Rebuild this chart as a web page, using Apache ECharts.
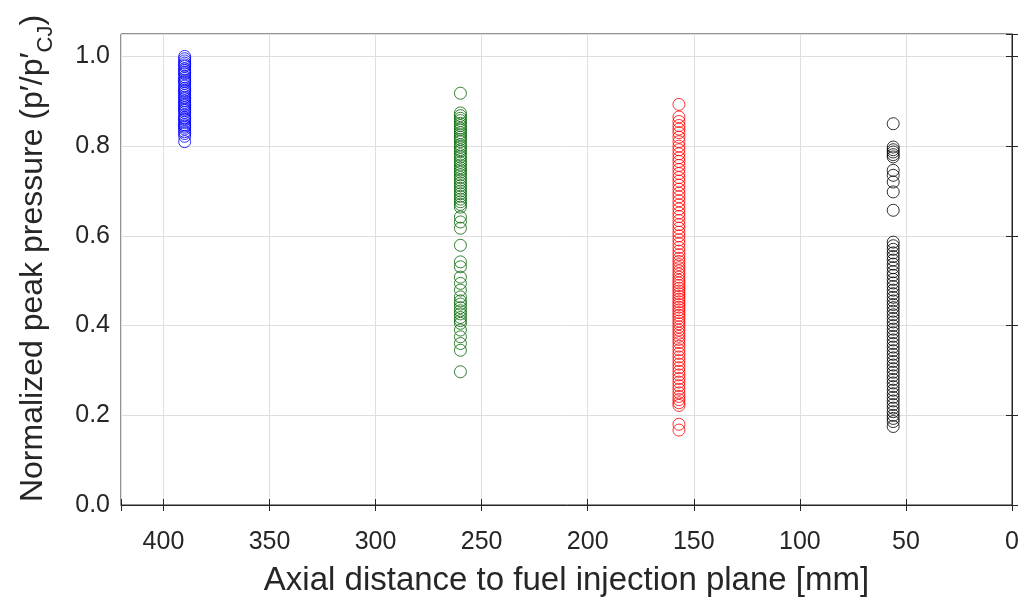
<!DOCTYPE html>
<html>
<head>
<meta charset="utf-8">
<script src="https://cdn.jsdelivr.net/npm/echarts@6/dist/echarts.min.js"></script>
<style>
  html, body { margin: 0; padding: 0; background: #fff; }
  #chart { width: 1026px; height: 604px; }
</style>
</head>
<body>
<div id="chart"></div>
<script>
// axial positions of the four pressure transducers [mm]
var positions = [390, 260, 157, 56];
var colors = ['#0000ff', '#006400', '#ff0000', '#000000'];

// normalized peak pressure
var blueVals = [1.00, 0.995, 0.99, 0.985, 0.981, 0.978, 0.972, 0.968, 0.964, 0.961, 0.955, 0.951, 0.947, 0.944, 0.94,
  0.934, 0.929, 0.925, 0.922, 0.918, 0.913, 0.909, 0.906, 0.901, 0.897, 0.893, 0.89, 0.886, 0.882, 0.879, 0.875,
  0.869, 0.864, 0.861, 0.858, 0.853, 0.848, 0.845, 0.842, 0.838, 0.832, 0.828, 0.822, 0.81];
var greenVals = [0.918, 0.874, 0.868, 0.862, 0.857, 0.851, 0.846, 0.84, 0.836, 0.83, 0.825, 0.82, 0.815, 0.81, 0.803,
  0.798, 0.792, 0.788, 0.781, 0.776, 0.77, 0.764, 0.758, 0.752, 0.747, 0.742, 0.736, 0.73, 0.724, 0.718, 0.712,
  0.706, 0.70, 0.694, 0.688, 0.682, 0.676, 0.67, 0.664, 0.642, 0.631, 0.617, 0.579, 0.542, 0.531, 0.508, 0.494,
  0.479, 0.464, 0.455, 0.448, 0.44, 0.433, 0.426, 0.418, 0.411, 0.405, 0.39, 0.375, 0.36, 0.345, 0.297];
var redVals = [0.893, 0.865, 0.855, 0.846, 0.838, 0.83, 0.82, 0.81, 0.80, 0.792, 0.783, 0.774, 0.766, 0.757, 0.748,
  0.739, 0.73, 0.722, 0.713, 0.704, 0.695, 0.687, 0.678, 0.669, 0.66, 0.651, 0.643, 0.634, 0.625, 0.617, 0.608,
  0.60, 0.591, 0.583, 0.574, 0.566, 0.558, 0.55, 0.543, 0.536, 0.529, 0.522, 0.515, 0.508, 0.501, 0.495, 0.489,
  0.483, 0.477, 0.471, 0.465, 0.459, 0.453, 0.447, 0.441, 0.435, 0.429, 0.423, 0.417, 0.41, 0.404, 0.397, 0.39,
  0.383, 0.376, 0.369, 0.362, 0.354, 0.346, 0.338, 0.33, 0.322, 0.314, 0.306, 0.298, 0.29, 0.282, 0.274, 0.266,
  0.258, 0.25, 0.242, 0.235, 0.228, 0.222, 0.18, 0.167];
var blackVals = [0.85, 0.798, 0.792, 0.787, 0.781, 0.776, 0.746, 0.735, 0.72, 0.698, 0.657, 0.586, 0.578, 0.57, 0.562,
  0.554, 0.546, 0.537, 0.529, 0.52, 0.512, 0.503, 0.495, 0.487, 0.479, 0.471, 0.463, 0.455, 0.447, 0.44, 0.432,
  0.424, 0.416, 0.408, 0.40, 0.392, 0.384, 0.376, 0.368, 0.36, 0.352, 0.344, 0.336, 0.328, 0.32, 0.312, 0.304,
  0.296, 0.288, 0.28, 0.272, 0.264, 0.256, 0.248, 0.24, 0.232, 0.224, 0.216, 0.208, 0.2, 0.193, 0.186, 0.175];

var xTicks = [0, 50, 100, 150, 200, 250, 300, 350, 400];
var yTicks = [0, 0.2, 0.4, 0.6, 0.8, 1.0];

var allVals = [blueVals, greenVals, redVals, blackVals];
var textColor = '#262626';
var fontFam = 'Liberation Sans, Arial, sans-serif';

var series = allVals.map(function (vals, i) {
    return {
        type: 'scatter',
        xAxisIndex: 0,
        yAxisIndex: 0,
        symbol: 'circle',
        symbolSize: 12,
        itemStyle: {
            color: 'rgba(0,0,0,0)',
            borderColor: colors[i],
            borderWidth: 1
        },
        emphasis: { disabled: true },
        data: vals.map(function (v) { return [positions[i], v]; })
    };
});

var chart = echarts.init(document.getElementById('chart'));
chart.setOption({
    animation: false,
    backgroundColor: '#fff',
    grid: {
        left: 121, right: 14, top: 34, bottom: 99,
        show: true, borderColor: textColor, borderWidth: 1, backgroundColor: 'transparent'
    },
    xAxis: [{
        type: 'value',
        inverse: true,
        min: 0, max: 420, interval: 50,
        name: 'Axial distance to fuel injection plane [mm]',
        nameLocation: 'middle',
        nameGap: 59,
        nameTextStyle: { fontSize: 33, color: textColor, fontFamily: fontFam },
        axisLine: { show: true, lineStyle: { color: textColor } },
        axisTick: { show: true, inside: true, length: 6, lineStyle: { color: textColor } },
        axisLabel: {
            fontSize: 25, color: textColor, fontFamily: fontFam, margin: 25,
            formatter: function (v) { return xTicks.indexOf(v) >= 0 ? String(v) : ''; }
        },
        splitLine: { show: true, lineStyle: { color: '#dedede' } }
    }, {
        type: 'value',
        position: 'top',
        inverse: true,
        min: 0, max: 420, interval: 50,
        axisLine: { show: false },
        axisTick: { show: true, inside: true, length: 6, lineStyle: { color: textColor } },
        axisLabel: { show: false },
        splitLine: { show: false }
    }],
    yAxis: [{
        type: 'value',
        min: 0, max: 1.05, interval: 0.2,
        name: '{a|Normalized peak pressure (p′/p′}{s|CJ}{a|)}',
        nameLocation: 'middle',
        nameGap: 72,
        nameTextStyle: {
            color: textColor, fontFamily: fontFam,
            padding: [0, 0, 0, 22],
            rich: {
                a: { fontSize: 32, color: textColor, fontFamily: fontFam, lineHeight: 38, verticalAlign: 'bottom' },
                s: { fontSize: 22, color: textColor, fontFamily: fontFam, lineHeight: 38, verticalAlign: 'bottom', padding: [0, 0, -8, 0] }
            }
        },
        axisLine: { show: true, lineStyle: { color: textColor } },
        axisTick: { show: true, inside: true, length: 6, lineStyle: { color: textColor } },
        axisLabel: {
            fontSize: 25, color: textColor, fontFamily: fontFam, margin: 11,
            formatter: function (v) {
                for (var k = 0; k < yTicks.length; k++) {
                    if (Math.abs(yTicks[k] - v) < 1e-6) return v.toFixed(1);
                }
                return '';
            }
        },
        splitLine: { show: true, lineStyle: { color: '#dedede' } }
    }, {
        type: 'value',
        position: 'right',
        min: 0, max: 1.05, interval: 0.2,
        axisLine: { show: false },
        axisTick: { show: true, inside: true, length: 6, lineStyle: { color: textColor } },
        axisLabel: { show: false },
        splitLine: { show: false }
    }],
    series: series
});
</script>
</body>
</html>
